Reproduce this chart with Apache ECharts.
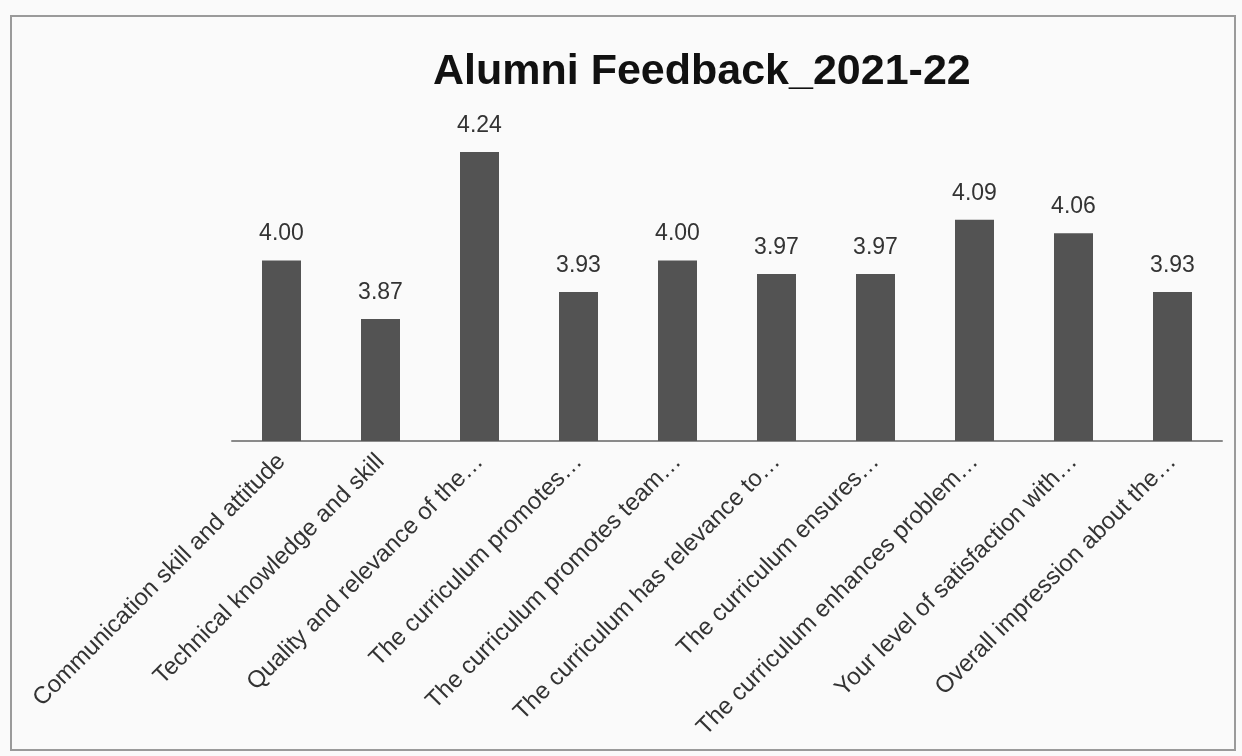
<!DOCTYPE html>
<html>
<head>
<meta charset="utf-8">
<script src="https://cdn.jsdelivr.net/npm/echarts@6/dist/echarts.min.js"></script>
<style>
html,body{margin:0;padding:0;background:#fafafa;}
#chart{width:1242px;height:756px;}
</style>
</head>
<body>
<div id="chart"></div>
<script>
const titleText = "Alumni Feedback_2021-22";
const categories = [
  "Communication skill and attitude",
  "Technical knowledge and skill",
  "Quality and relevance of the…",
  "The curriculum promotes…",
  "The curriculum promotes team…",
  "The curriculum has relevance to…",
  "The curriculum ensures…",
  "The curriculum enhances problem…",
  "Your level of satisfaction with…",
  "Overall impression about the…"
];
const values = [4.00, 3.87, 4.24, 3.93, 4.00, 3.97, 3.97, 4.09, 4.06, 3.93];
const yMin = 3.6;
const yMax = 4.3;

const chart = echarts.init(document.getElementById('chart'), null, {renderer: 'canvas'});
chart.setOption({
  backgroundColor: '#fafafa',
  animation: false,
  title: {
    text: titleText,
    left: 428,
    top: 46,
    textStyle: {fontFamily: 'Liberation Sans', fontWeight: 'bold', fontSize: 43, color: '#111'}
  },
  graphic: [{
    type: 'rect',
    shape: {x: 11, y: 16, width: 1224, height: 734},
    style: {fill: 'none', stroke: '#9a9a9a', lineWidth: 2}
  }],
  grid: {left: 232, right: 20, top: 125, bottom: 315},
  xAxis: {
    type: 'category',
    data: categories,
    axisLine: {lineStyle: {color: '#8a8a8a', width: 2}},
    axisTick: {show: false},
    axisLabel: {
      rotate: 45,
      interval: 0,
      margin: 17,
      fontFamily: 'Liberation Sans',
      fontSize: 24,
      color: '#333'
    }
  },
  yAxis: {
    type: 'value',
    min: yMin,
    max: yMax,
    interval: 0.1,
    show: false,
    splitLine: {show: false}
  },
  series: [{
    type: 'bar',
    data: values,
    barWidth: 39,
    itemStyle: {color: '#535353'},
    label: {
      show: true,
      position: 'top',
      distance: 15,
      formatter: p => p.value.toFixed(2),
      fontFamily: 'Liberation Sans',
      fontSize: 23,
      color: '#333'
    }
  }]
});
</script>
</body>
</html>
